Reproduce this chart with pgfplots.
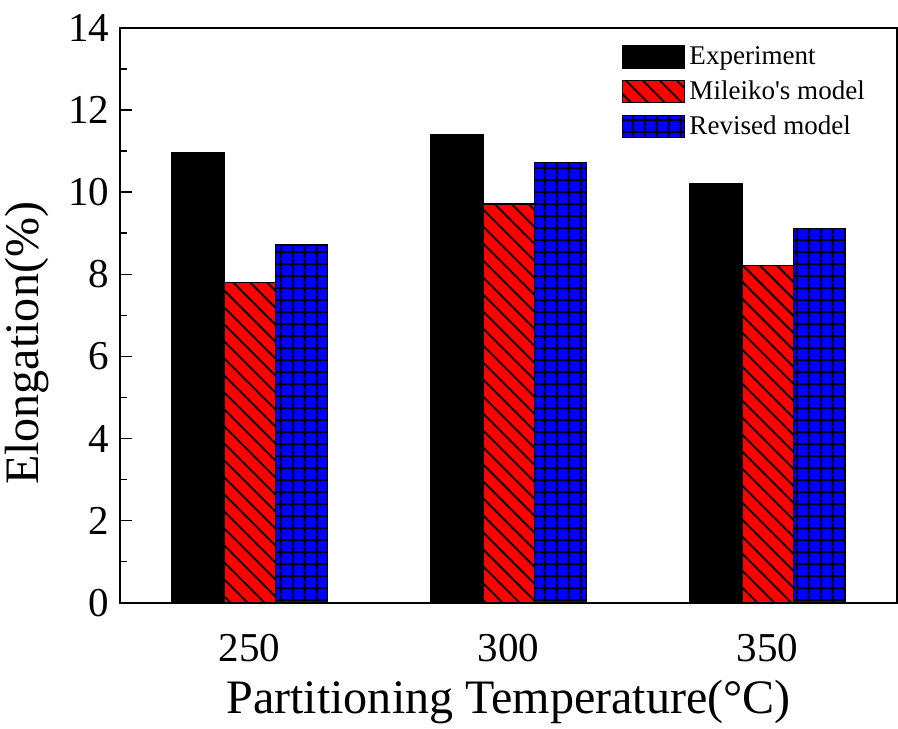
\documentclass[border=0pt]{standalone}
\usepackage{pgfplots}
\pgfplotsset{compat=1.18}
\usepackage{fontspec}
\setmainfont{Liberation Serif}
\usetikzlibrary{patterns.meta}
\begin{document}
\begin{tikzpicture}
\begin{axis}[
  scale only axis,
  width=388pt, height=287pt,
  ybar=0pt, bar width=0.2,
  xmin=-0.5, xmax=2.5,
  ymin=0, ymax=14,
  xtick={0,1,2}, xticklabels={250,300,350},
  ytick={0,2,4,6,8,10,12,14},
  minor y tick num=1,
  tick align=inside,
  xtick style={draw=none},
  ytick pos=left,
  major tick length=6pt, minor tick length=3.5pt,
  axis line style={line width=0.9pt},
  tick style={line width=0.8pt, black},
  /pgf/number format/assume math mode=true,
  ticklabel style={font=\fontsize{20.5}{22}\selectfont},
  xticklabel style={yshift=-12pt},
  yticklabel style={xshift=-2pt},
  xlabel={Partitioning Temperature(°C)},
  ylabel={Elongation(\%)},
  label style={font=\fontsize{24}{26}\selectfont, inner sep=0pt},
  xlabel style={yshift=-6pt},
  ylabel style={yshift=6pt, xshift=-14pt},
  legend style={draw=none, at={(0.64,0.982)}, anchor=north west,
    font=\fontsize{13.5}{15}\selectfont, row sep=2.5pt, inner sep=2pt},
  legend cell align=left,
  legend image code/.code={\draw[#1] (0pt,-5.5pt) rectangle (31pt,5.5pt);},
]
\addplot[draw=black, line width=0.8pt, fill=black] coordinates {(0,10.95) (1,11.4) (2,10.2)};
\addplot[draw=black, line width=0.8pt, fill=red,
  postaction={pattern={Lines[angle=-45,distance=6pt,line width=0.9pt]}, pattern color=black}]
  coordinates {(0,7.8) (1,9.72) (2,8.22)};
\addplot[draw=black, line width=0.8pt, fill=blue,
  postaction={pattern={Hatch[angle=0,distance=5.85pt,line width=0.9pt]}, pattern color=black}]
  coordinates {(0,8.72) (1,10.72) (2,9.12)};
\legend{Experiment, Mileiko\textquotesingle s model, Revised model}
\end{axis}
\path ([yshift=14pt]current axis.north) ([xshift=-60pt]current axis.west) ([yshift=-63pt]current axis.south);
\end{tikzpicture}
\end{document}
